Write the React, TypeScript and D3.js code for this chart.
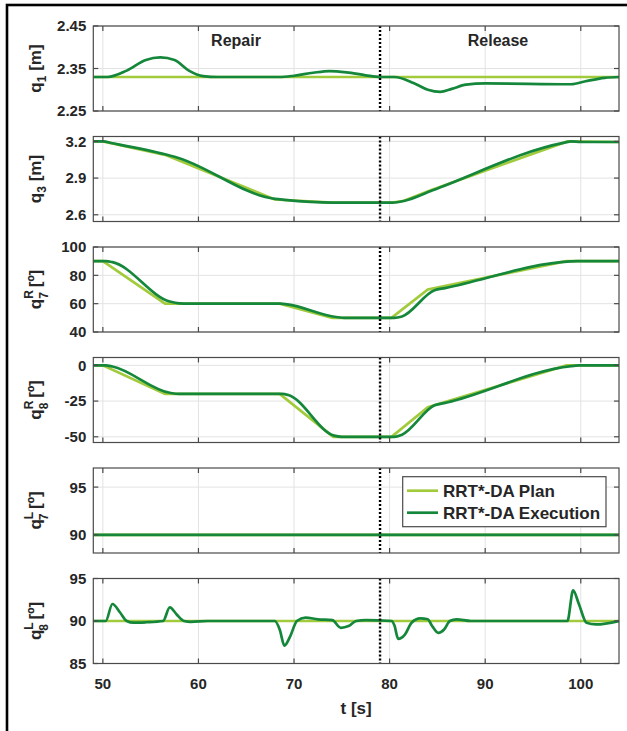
import React, { useEffect } from "react";
import * as d3 from "d3";

type Pt = [number, number];

const tTicks = [50, 60, 70, 80, 90, 100];
const tRange: [number, number] = [49, 104];
const phaseSwitch = 79;

const q1Plan: Pt[] = [[49, 2.33], [104, 2.33]];
const q1Exec: Pt[] = [
  [49, 2.33], [50.5, 2.33], [52.5, 2.345], [54.5, 2.37], [56, 2.376], [57.5, 2.37],
  [59, 2.345], [60.5, 2.332], [62, 2.33], [68.5, 2.33], [70, 2.333], [72, 2.34],
  [73.7, 2.344], [75.5, 2.341], [77.5, 2.334], [79, 2.33], [80.5, 2.33], [82.5, 2.316],
  [84, 2.3], [85.3, 2.295], [86.5, 2.302], [88, 2.312], [90, 2.315], [99, 2.313],
  [100.5, 2.32], [102.5, 2.328], [104, 2.33],
];

const q3Plan: Pt[] = [
  [49, 3.2], [50, 3.2], [56.5, 3.09], [68, 2.725], [74, 2.7], [80.3, 2.7],
  [81.5, 2.715], [84.3, 2.8], [98.6, 3.2], [104, 3.195],
];
const q3Exec: Pt[] = [
  [49, 3.2], [50, 3.2], [51, 3.185], [56.5, 3.095], [57.5, 3.075], [68, 2.73],
  [69, 2.722], [74, 2.7], [80.3, 2.7], [81.5, 2.713], [84.5, 2.8], [98.3, 3.19],
  [99, 3.2], [100, 3.195], [104, 3.195],
];

const q7RPlan: Pt[] = [
  [49, 90], [50, 90], [56.5, 60], [68.5, 60], [74, 50], [80.2, 50], [84, 70], [98.5, 90], [104, 90],
];
const q7RExec: Pt[] = [
  [49, 90], [50.3, 90], [51, 89.3], [57, 61.5], [58, 60.2], [59, 60], [68.6, 60], [69.3, 59.5],
  [74.4, 50.6], [75.3, 50], [80.5, 50], [81.3, 51], [84.7, 69.5], [85.8, 71], [98.9, 89.8],
  [99.6, 90], [104, 90],
];

const q8RPlan: Pt[] = [
  [49, 0], [50, 0], [56.5, -20], [68.5, -20], [74.1, -50], [80.2, -50], [84, -29.3], [98.5, 0], [104, 0],
];
const q8RExec: Pt[] = [
  [49, 0], [50.3, 0], [51, -0.8], [57, -19.2], [58, -20], [68.8, -20], [69.4, -20.8],
  [74.2, -49.2], [75, -50], [80.5, -50], [81.3, -48.5], [84.7, -28], [86, -26],
  [99, -0.5], [99.8, 0], [104, 0],
];

const q7LPlan: Pt[] = [[49, 90], [104, 90]];
const q7LExec: Pt[] = [[49, 90], [104, 90]];

const q8LPlan: Pt[] = [[49, 90], [104, 90]];
const q8LExec: Pt[] = [
  [49, 90], [50.3, 90], [51, 92], [51.8, 91], [52.5, 90], [53.2, 89.8], [54.5, 89.85],
  [56.3, 90], [57, 91.6], [57.7, 90.8], [58.5, 90], [59.2, 89.9], [61, 90], [68, 90],
  [68.5, 89], [69, 87.1], [69.6, 88.2], [70.3, 90], [71.2, 90.4], [72.5, 90.2], [74, 90.1],
  [74.9, 89.2], [75.7, 89.4], [76.5, 90], [77.5, 90.1], [80.2, 90], [80.5, 89.5],
  [80.9, 87.9], [81.6, 88.4], [82.3, 89.8], [83.2, 90.3], [84, 90.2], [84.4, 89.5],
  [85.1, 88.6], [85.7, 89], [86.3, 90], [87, 90.2], [88.5, 90], [98.6, 90], [99.2, 93.6],
  [99.8, 92], [100.6, 89.8], [101.6, 89.6], [104, 90],
];

const seriesNames = ["RRT*-DA Plan", "RRT*-DA Execution"];
const phaseNames = ["Repair", "Release"];

type Panel = {
  domain: [number, number];
  ticks: number[];
  tickLabels: string[];
  sym: string;
  sup?: string;
  sub: string;
  unit: string;
  plan: Pt[];
  exec: Pt[];
};

const panels: Panel[] = [
  { domain: [2.25, 2.45], ticks: [2.25, 2.35, 2.45], tickLabels: ["2.25", "2.35", "2.45"], sym: "q", sub: "1", unit: "[m]", plan: q1Plan, exec: q1Exec },
  { domain: [2.545, 3.24], ticks: [2.6, 2.9, 3.2], tickLabels: ["2.6", "2.9", "3.2"], sym: "q", sub: "3", unit: "[m]", plan: q3Plan, exec: q3Exec },
  { domain: [40, 100], ticks: [40, 60, 80, 100], tickLabels: ["40", "60", "80", "100"], sym: "q", sup: "R", sub: "7", unit: "[º]", plan: q7RPlan, exec: q7RExec },
  { domain: [-54, 5.5], ticks: [-50, -25, 0], tickLabels: ["-50", "-25", "0"], sym: "q", sup: "R", sub: "8", unit: "[º]", plan: q8RPlan, exec: q8RExec },
  { domain: [88.1, 97], ticks: [90, 95], tickLabels: ["90", "95"], sym: "q", sup: "L", sub: "7", unit: "[º]", plan: q7LPlan, exec: q7LExec },
  { domain: [85, 95], ticks: [85, 90, 95], tickLabels: ["85", "90", "95"], sym: "q", sup: "L", sub: "8", unit: "[º]", plan: q8LPlan, exec: q8LExec },
];

const W = 627;
const H = 731;
const plotL = 93.3;
const plotR = 619;
const top0 = 26;
const pitch = 110.5;
const panelH = 85;
const planColor = "#a2cb3c";
const execColor = "#15873b";
const ink = "#262626";
const axisColor = "#4a4a4a";
const font = "'Liberation Sans', Arial, Helvetica, sans-serif";

export default function App() {
  useEffect(() => {
    document.body.style.margin = "0";
  }, []);

  const x = d3.scaleLinear().domain(tRange).range([plotL, plotR]);

  return (
    <svg width={W} height={H} style={{ display: "block", background: "#fff" }} fontFamily={font}>
      <rect x={7} y={5} width={W + 20} height={H + 20} fill="none" stroke="#000" strokeWidth={2.6} />
      {panels.map((p, i) => {
        const top = top0 + i * pitch;
        const bottom = top + panelH;
        const y = d3.scaleLinear().domain(p.domain).range([bottom, top]);
        const planLine = d3.line<Pt>().x((d) => x(d[0])).y((d) => y(d[1]));
        const execLine = d3
          .line<Pt>()
          .x((d) => x(d[0]))
          .y((d) => y(d[1]))
          .curve(d3.curveMonotoneX);
        const cy = (top + bottom) / 2;
        return (
          <g key={i}>
            <defs>
              <clipPath id={`clip${i}`}>
                <rect x={plotL} y={top} width={plotR - plotL} height={panelH} />
              </clipPath>
            </defs>
            {tTicks.map((t) => (
              <line key={`gx${t}`} x1={x(t)} x2={x(t)} y1={top} y2={bottom} stroke="#e3e3e3" strokeWidth={1} />
            ))}
            {p.ticks.map((v) => (
              <line key={`gy${v}`} x1={plotL} x2={plotR} y1={y(v)} y2={y(v)} stroke="#e3e3e3" strokeWidth={1} />
            ))}
            <g clipPath={`url(#clip${i})`}>
              <path d={planLine(p.plan) || ""} fill="none" stroke={planColor} strokeWidth={2.7} />
              <path d={execLine(p.exec) || ""} fill="none" stroke={execColor} strokeWidth={2.7} />
            </g>
            <line
              x1={x(phaseSwitch)}
              x2={x(phaseSwitch)}
              y1={top}
              y2={bottom}
              stroke="#000"
              strokeWidth={2.4}
              strokeDasharray="2 2"
            />
            <rect x={plotL} y={top} width={plotR - plotL} height={panelH} fill="none" stroke={axisColor} strokeWidth={1.2} />
            {tTicks.map((t) => (
              <g key={`tx${t}`} stroke={axisColor} strokeWidth={1.2}>
                <line x1={x(t)} x2={x(t)} y1={bottom} y2={bottom - 5} />
                <line x1={x(t)} x2={x(t)} y1={top} y2={top + 5} />
              </g>
            ))}
            {p.ticks.map((v, j) => (
              <g key={`ty${v}`}>
                <line x1={plotL} x2={plotL + 5} y1={y(v)} y2={y(v)} stroke={axisColor} strokeWidth={1.2} />
                <line x1={plotR} x2={plotR - 5} y1={y(v)} y2={y(v)} stroke={axisColor} strokeWidth={1.2} />
                <text
                  x={plotL - 7}
                  y={y(v)}
                  dy="0.36em"
                  textAnchor="end"
                  fontSize={15}
                  fontWeight="bold"
                  fill={ink}
                >
                  {p.tickLabels[j]}
                </text>
              </g>
            ))}
            <text
              transform={`translate(41,${cy}) rotate(-90)`}
              textAnchor="middle"
              fontSize={17}
              fontWeight="bold"
              fill={ink}
            >
              <tspan>{p.sym}</tspan>
              {p.sup ? (
                <>
                  <tspan fontSize={12} dy={-8}>{p.sup}</tspan>
                  <tspan fontSize={12} dx={-8.5} dy={15}>{p.sub}</tspan>
                  <tspan dy={-7}>{" " + p.unit}</tspan>
                </>
              ) : (
                <>
                  <tspan fontSize={12} dy={5}>{p.sub}</tspan>
                  <tspan dy={-5}>{" " + p.unit}</tspan>
                </>
              )}
            </text>
          </g>
        );
      })}
      {tTicks.map((t) => (
        <text key={`xl${t}`} x={x(t)} y={689} textAnchor="middle" fontSize={15} fontWeight="bold" fill={ink}>
          {t}
        </text>
      ))}
      <text x={(plotL + plotR) / 2} y={714} textAnchor="middle" fontSize={17} fontWeight="bold" fill={ink}>
        t [s]
      </text>
      <text x={236} y={46} textAnchor="middle" fontSize={16} fontWeight="bold" fill={ink}>
        {phaseNames[0]}
      </text>
      <text x={498} y={46} textAnchor="middle" fontSize={16} fontWeight="bold" fill={ink}>
        {phaseNames[1]}
      </text>
      <g>
        <rect x={402.7} y={476.7} width={203.3} height={50} fill="#fff" stroke={axisColor} strokeWidth={1.2} />
        {seriesNames.map((n, k) => {
          const ly = 490.7 + k * 22;
          return (
            <g key={n}>
              <line x1={407} x2={438} y1={ly} y2={ly} stroke={k === 0 ? planColor : execColor} strokeWidth={2.7} />
              <text x={443} y={ly} dy="0.36em" fontSize={17} fontWeight="bold" fill={ink}>
                {n}
              </text>
            </g>
          );
        })}
      </g>
    </svg>
  );
}
